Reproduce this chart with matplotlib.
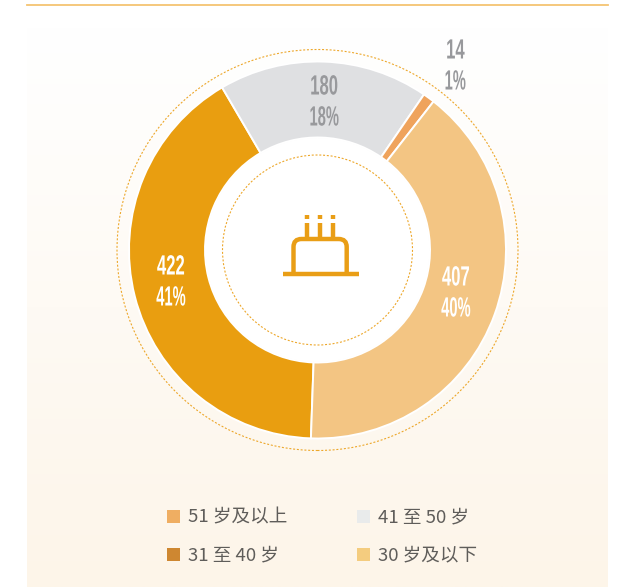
# -*- coding: utf-8 -*-
import numpy as np
import matplotlib.pyplot as plt
from matplotlib.patches import Circle, Rectangle
from matplotlib.path import Path
from matplotlib.patches import PathPatch
from matplotlib.patheffects import AbstractPathEffect
from matplotlib.transforms import Affine2D

counts = [422, 180, 14, 407]
percents = [41, 18, 1, 40]
slice_colors = ['#E99E10', '#DFE0E2', '#EFA35C', '#F3C583']
label_colors = ['white', '#98999C', '#98999C', 'white']
legend_names = ['51 岁及以上', '41 至 50 岁', '31 至 40 岁', '30 岁及以下']
legend_colors = ['#EFAE62', '#E9EBEB', '#CE8731', '#F4CC7F']

W, H = 630, 587
plt.rcParams['font.family'] = ['Noto Sans CJK SC', 'DejaVu Sans']


class Squeeze(AbstractPathEffect):
    # narrow the glyphs around their centre, no condensed font is installed
    def __init__(self, sx):
        super().__init__()
        self.sx = sx

    def draw_path(self, renderer, gc, tpath, affine, rgbFace=None):
        box = tpath.get_extents(affine)
        mid = (box.x0 + box.x1) / 2
        squeezed = affine + Affine2D().translate(-mid, 0).scale(self.sx, 1).translate(mid, 0)
        renderer.draw_path(gc, tpath, squeezed, rgbFace)


fig = plt.figure(figsize=(W / 100, H / 100), dpi=100)
ax = fig.add_axes([0, 0, 1, 1])

def py(y):
    return H - y

cx, cy = 317.5, py(250)

# background panel, white fading to cream
grad = np.linspace(0, 1, 256).reshape(-1, 1)
top = np.array([255, 255, 255]) / 255
bot = np.array([253, 245, 233]) / 255
img = top + (bot - top) * grad[..., None]
ax.imshow(img, extent=[27, 608, py(587), py(27)], origin='upper', aspect='auto', zorder=0)
ax.plot([27, 608], [py(4.5), py(4.5)], color='#F5C472', lw=1.3, zorder=1)

# the slices follow the rounded percents, not the counts
wedges, _ = ax.pie(percents, colors=slice_colors, startangle=-92, counterclock=False,
                   center=(cx, cy), radius=188.5,
                   wedgeprops={'width': 76, 'edgecolor': 'white', 'linewidth': 1.4, 'zorder': 2})
ax.add_patch(Circle((cx, cy), 112, fc='white', ec='none', zorder=1.5))
for r in [200.5, 95]:
    ax.add_patch(Circle((cx, cy), r, fc='none', ec='#EDA72A', lw=0.8,
                        ls=(0, (1.8, 1.6)), zorder=3))

# value labels
label_xy = [(171, 267.5), (324, 87.5), (455, 51.5), (456, 278.5)]
for v, p, c, (x, y) in zip(counts, percents, label_colors, label_xy):
    for s, yy, sx in [(str(v), y, 0.6), (f'{p}%', y + 31, 0.53)]:
        t = ax.text(x, py(yy), s, color=c, family='Liberation Sans', weight='bold', fontsize=20,
                    ha='center', va='center', zorder=4)
        t.set_path_effects([Squeeze(sx)])

# cake icon
cake = '#E99E16'
ax.plot([283, 359], [py(274.3), py(274.3)], color=cake, lw=3.2, solid_capstyle='butt', zorder=4)
l, r, t, b, q = 293.5, 346.7, py(239), py(274), 8
body = Path([(l, b), (l, t - q), (l, t), (l + q, t), (r - q, t), (r, t), (r, t - q), (r, b)],
            [Path.MOVETO, Path.LINETO, Path.CURVE3, Path.CURVE3,
             Path.LINETO, Path.CURVE3, Path.CURVE3, Path.LINETO])
ax.add_patch(PathPatch(body, fc='none', ec=cake, lw=3.2, capstyle='butt', zorder=4))
for x in [307, 320, 333]:
    ax.plot([x, x], [py(238), py(223)], color=cake, lw=3.2, solid_capstyle='butt', zorder=4)
    ax.plot([x, x], [py(219), py(214.5)], color=cake, lw=3.2, solid_capstyle='butt', zorder=4)

# legend
leg_xy = [(167, 516), (357, 516), (167, 554), (357, 554)]
for n, c, (x, y) in zip(legend_names, legend_colors, leg_xy):
    ax.add_patch(Rectangle((x, py(y + 6.5)), 13, 13, fc=c, ec='none', zorder=4))
    ax.text(x + 21.5, py(y + 1.5), n, color='#5F5D5A', fontsize=13.4, ha='left', va='center', zorder=4)

ax.set_xlim(0, W)
ax.set_ylim(0, H)
ax.set_aspect('auto')
ax.axis('off')
fig.savefig('out.png', dpi=100)
